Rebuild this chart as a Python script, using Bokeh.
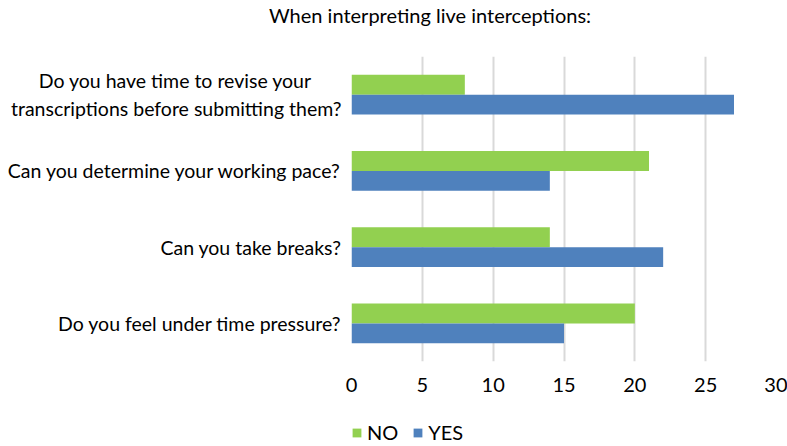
from bokeh.plotting import figure
from bokeh.layouts import column
from bokeh.models import (Range1d, FactorRange, Legend, LegendItem,
                          ColumnDataSource, FixedTicker)
from bokeh.transform import dodge
from bokeh.embed import file_html
from bokeh.resources import INLINE

# ---- data ----
title_text = "When interpreting live interceptions:"
questions = [
    ["Do you have time to revise your", "transcriptions before submitting them?"],
    ["Can you determine your working pace?"],
    ["Can you take breaks?"],
    ["Do you feel under time pressure?"],
]
no_values = [8, 21, 14, 20]
yes_values = [27, 14, 22, 15]
series_names = ["NO", "YES"]
x_ticks = [0, 5, 10, 15, 20, 25, 30]

FONT = "Lato"
GREEN = "#92D050"
BLUE = "#4F81BD"
TEXT = "#000000"
NBSP = "\u00a0"


def label_of(lines):
    # Bokeh right-aligns the lines of a multi-line tick label; pad the
    # shorter lines so that they appear centred like in the original chart.
    if len(lines) == 1:
        return lines[0]
    longest = max(len(s) for s in lines)
    return "\n".join(s + NBSP * round((longest - len(s)) * 0.9) for s in lines)


def strip(height, left=0):
    f = figure(width=787, height=height, x_range=Range1d(0, 1), y_range=Range1d(0, 1),
               x_axis_type=None, y_axis_type=None,
               output_backend="svg", toolbar_location=None,
               min_border_left=left, min_border_right=0,
               min_border_top=0, min_border_bottom=0)
    f.outline_line_color = None
    return f


# ---- title strip (title panel placed relative to the aligned frame) ----
head = strip(30)
head.title.text = title_text
head.title.align = "left"
head.title.offset = -82.5
head.title.standoff = 0
head.title.text_font = FONT
head.title.text_font_size = "20px"
head.title.text_font_style = "normal"
head.title.text_color = TEXT

# ---- main chart ----
cats = [label_of(q) for q in questions]
factors = list(reversed(cats))  # bottom-to-top order
src = ColumnDataSource(dict(q=cats, no=no_values, yes=yes_values))

fig = figure(width=787, height=390,
             y_range=FactorRange(factors=factors, range_padding=0),
             x_range=Range1d(x_ticks[0], x_ticks[-1]),
             output_backend="svg", toolbar_location=None,
             min_border_left=350, min_border_right=11,
             min_border_top=26, min_border_bottom=59)
fig.outline_line_color = None

xa = fig.below[0]
xa.ticker = FixedTicker(ticks=x_ticks)
xa.axis_line_color = None
xa.major_tick_line_color = None
xa.minor_tick_line_color = None
xa.major_tick_out = 0
xa.major_tick_in = 0
xa.major_label_standoff = 16
xa.major_label_text_font = FONT
xa.major_label_text_font_size = "20px"
xa.major_label_text_color = TEXT

ya = fig.left[0]
ya.axis_line_color = None
ya.major_tick_line_color = None
ya.minor_tick_line_color = None
ya.major_tick_out = 0
ya.major_tick_in = 0
ya.major_label_standoff = 10
ya.major_label_text_font = FONT
ya.major_label_text_font_size = "19.5px"
ya.major_label_text_color = TEXT

fig.ygrid.visible = False
fig.xgrid.grid_line_color = "#D9D9D9"
fig.xgrid.grid_line_width = 2

r_no = fig.hbar(y=dodge("q", 0.131, range=fig.y_range), left=0, right="no",
                height=0.262, fill_color=GREEN, line_color=None, source=src)
r_yes = fig.hbar(y=dodge("q", -0.131, range=fig.y_range), left=0, right="yes",
                 height=0.262, fill_color=BLUE, line_color=None, source=src)

# ---- legend strip ----
leg = strip(26, left=351)
# legend proxies: one hidden row each (outside the strip's visible range)
proxy = ColumnDataSource(dict(y=[-1.0], right=[0.0]))
g_no = leg.hbar(y="y", right="right", height=0.5, fill_color=GREEN,
                line_color=None, source=proxy)
g_yes = leg.hbar(y="y", right="right", height=0.5, fill_color=BLUE,
                 line_color=None, source=proxy)
legend = Legend(items=[LegendItem(label=series_names[0], renderers=[g_no]),
                       LegendItem(label=series_names[1], renderers=[g_yes])],
                orientation="horizontal", location="top_left",
                glyph_width=11, glyph_height=11, label_standoff=5, spacing=14,
                padding=0, margin=0, border_line_color=None,
                background_fill_alpha=0, label_height=20,
                label_text_font=FONT, label_text_font_size="20px",
                label_text_color=TEXT)
leg.add_layout(legend, "center")

p = column(head, fig, leg, spacing=0)

open("out.html", "w").write(file_html(p, INLINE))
